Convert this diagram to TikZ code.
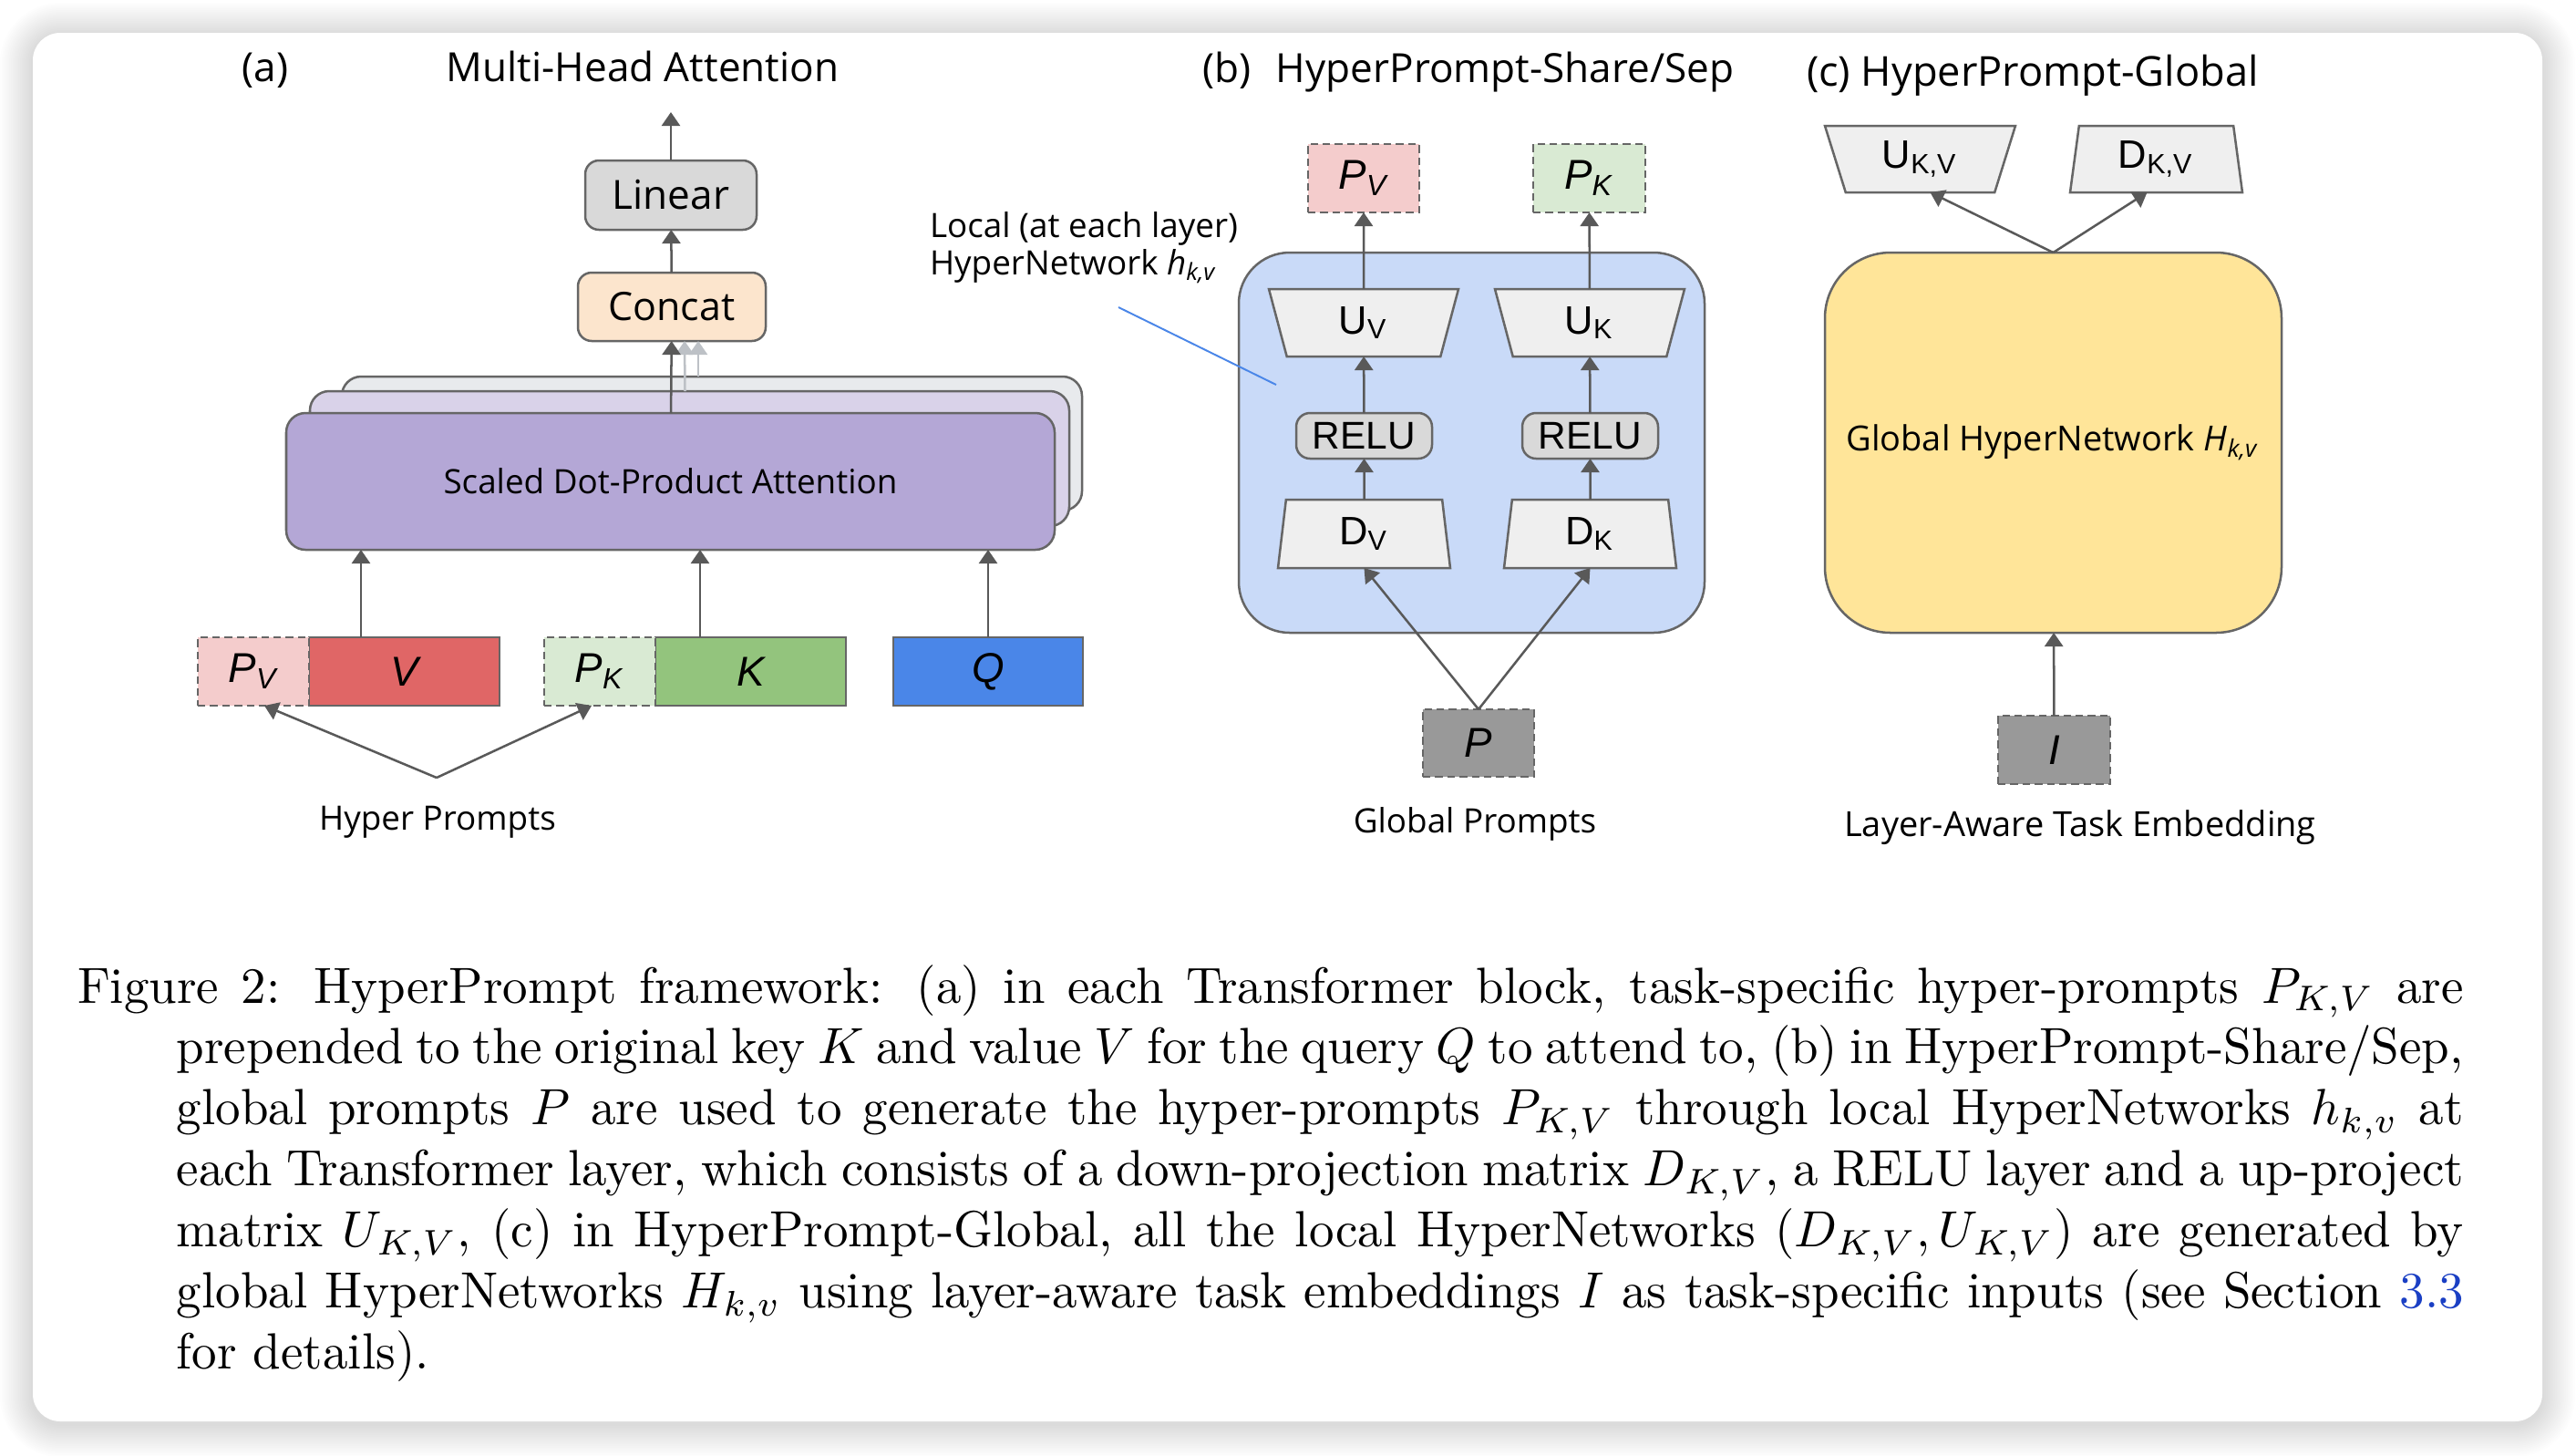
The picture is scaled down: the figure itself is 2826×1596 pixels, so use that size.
\documentclass[tikz,border=0pt]{standalone}
\usepackage{fontspec}
\usepackage{graphicx}
\newfontfamily\gsans{Open Sans}
\newfontfamily\arialf{Liberation Sans}
\usetikzlibrary{arrows.meta,shapes.geometric,calc}
\definecolor{edgegrey}{HTML}{666666}
\definecolor{arrowgrey}{HTML}{595959}
\definecolor{ghostgrey}{HTML}{BDC1C6}
\definecolor{lineargrey}{HTML}{D9D9D9}
\definecolor{concatpeach}{HTML}{FCE5CD}
\definecolor{sdpapurple}{HTML}{B4A7D6}
\definecolor{sdpalilac}{HTML}{D9D2E9}
\definecolor{sdpagrey}{HTML}{E8EAED}
\definecolor{pvpink}{HTML}{F4CCCC}
\definecolor{vred}{HTML}{E06666}
\definecolor{pkgreen}{HTML}{D9EAD3}
\definecolor{kgreen}{HTML}{93C47D}
\definecolor{qblue}{HTML}{4A86E8}
\definecolor{localblue}{HTML}{C9DAF8}
\definecolor{trapgrey}{HTML}{EFEFEF}
\definecolor{promptgrey}{HTML}{999999}
\definecolor{globalyellow}{HTML}{FFE599}
\definecolor{pointerblue}{HTML}{4A86E8}
\definecolor{linkblue}{HTML}{1A3FC4}
\newcommand{\pxu}{0.17921pt}
\begin{document}
\begin{tikzpicture}[x=\pxu,y=-\pxu,inner sep=0pt,outer sep=0pt,
box/.style={draw=edgegrey,line width=0.45pt,minimum height=75*\pxu},
rbox/.style={box,rounded corners=2.7pt},
dashbox/.style={box,dash pattern=on 1.5pt off 0.9pt},
sdpabox/.style={draw=edgegrey,line width=0.45pt,rounded corners=3.8pt},
bignet/.style={draw=edgegrey,line width=0.45pt,minimum width=505*\pxu,minimum height=417*\pxu},
trap/.style={trapezium,draw=edgegrey,fill=trapgrey,line width=0.45pt,trapezium stretches body,minimum height=74*\pxu,font=\arialf\fontsize{7.8}{9}\selectfont},
upproj/.style={trap,trapezium left angle=119,trapezium right angle=119},
downproj/.style={trap,trapezium left angle=76,trapezium right angle=76},
arr/.style={draw=arrowgrey,line width=0.45pt,-{Triangle[length=2.7pt,width=3.6pt]}},
ghostarr/.style={arr,draw=ghostgrey},
pointer/.style={draw=pointerblue,line width=0.35pt},
ttl/.style={font=\gsans\fontsize{7.9}{9.5}\selectfont},
lbl/.style={font=\gsans\fontsize{6.6}{8}\selectfont},
sym/.style={font=\arialf\itshape\fontsize{8.2}{9.6}\selectfont}]
\useasboundingbox (0,0) rectangle (2826,1596);
\fill[white] (0,0) rectangle (2826,1596);
\foreach \s in {1,...,18}
  \fill[black,opacity=0.008,rounded corners=(30+2*\s)*\pxu] (36-2*\s,39-2*\s) rectangle (2789+2*\s,1562+2*\s);
\fill[white,rounded corners=30*\pxu] (36,36) rectangle (2789,1559);

\draw (291,89) node[ttl,anchor=base] (alabel) {(a)};
\draw (705,89) node[ttl,anchor=base] (mhatitle) {Multi-Head Attention};
\draw (736,214) node[rbox,fill=lineargrey,minimum width=188*\pxu,minimum height=76*\pxu,font=\gsans\fontsize{7.9}{9}\selectfont] (linear) {Linear};
\draw (737,336.5) node[rbox,fill=concatpeach,minimum width=206*\pxu,font=\gsans\fontsize{7.7}{9}\selectfont] (concat) {Concat};
\draw (781,486.5) node[sdpabox,fill=sdpagrey,minimum width=812*\pxu,minimum height=147*\pxu] (sdpaback) {};
\draw (756.5,503) node[sdpabox,fill=sdpalilac,minimum width=833*\pxu,minimum height=148*\pxu] (sdpamid) {};
\draw (735.5,528) node[sdpabox,fill=sdpapurple,minimum width=843*\pxu,minimum height=150*\pxu,lbl] (sdpa) {Scaled Dot-Product Attention};
\draw[ghostarr] ($(sdpaback.north)+(-15,0)$) -- ($(concat.south)+(29,0)$);
\draw[ghostarr] ($(sdpamid.north)+(-5,0)$) -- ($(concat.south)+(14,0)$);
\draw[arr] (sdpa) -- (concat);
\draw[arr] (concat) -- (linear);
\coordinate (mhaout) at (736,123);
\draw[arr] (linear) -- (mhaout);
\draw (443.5,736.5) node[box,fill=vred,minimum width=209*\pxu,sym] (v) {V};
\draw (278,736.5) node[dashbox,fill=pvpink,minimum width=122*\pxu,sym] (pv) {P\textsubscript{V}};
\draw (823.5,736.5) node[box,fill=kgreen,minimum width=209*\pxu,sym] (k) {K};
\draw (658,736.5) node[dashbox,fill=pkgreen,minimum width=122*\pxu,sym] (pk) {P\textsubscript{K}};
\draw (1084,736.5) node[box,fill=qblue,minimum width=208*\pxu,sym] (q) {Q};
\coordinate (vin) at ($(v.north)+(-47.5,0)$);
\coordinate (kin) at ($(k.north)+(-55.5,0)$);
\draw[arr] (vin) -- (vin |- sdpa.south);
\draw[arr] (kin) -- (kin |- sdpa.south);
\draw[arr] (q.north) -- (q.north |- sdpa.south);
\coordinate (hpapex) at (479,853);
\draw[arr] (hpapex) -- ($(pv.south)+(12,0)$);
\draw[arr] (hpapex) -- ($(pk.south)+(-9,0)$);
\draw (480,910) node[lbl,anchor=base] (hyperprompts) {Hyper Prompts};

\draw (1319,90.5) node[ttl,anchor=base west] (blabel) {(b)\hspace{5pt}HyperPrompt-Share/Sep};
\draw (1614.5,485.5) node[bignet,fill=localblue,minimum width=511*\pxu,rounded corners=10pt] (localnet) {};
\draw (1496,195.5) node[dashbox,fill=pvpink,minimum width=122*\pxu,sym] (pvout) {P\textsubscript{V}};
\draw (1743.5,195.5) node[dashbox,fill=pkgreen,minimum width=123*\pxu,sym] (pkout) {P\textsubscript{K}};
\draw (1496,354) node[upproj,minimum width=208*\pxu] (uv) {U\textsubscript{V}};
\draw (1744,354) node[upproj,minimum width=208*\pxu] (uk) {U\textsubscript{K}};
\draw (1496.5,478) node[rbox,fill=lineargrey,minimum width=149*\pxu,minimum height=50*\pxu,font=\arialf\fontsize{7.6}{9}\selectfont] (reluv) {RELU};
\draw (1744.5,478) node[rbox,fill=lineargrey,minimum width=149*\pxu,minimum height=50*\pxu,font=\arialf\fontsize{7.6}{9}\selectfont] (reluk) {RELU};
\draw (1496.5,585.5) node[downproj,minimum width=189*\pxu,minimum height=75*\pxu] (dv) {D\textsubscript{V}};
\draw (1744.5,585.5) node[downproj,minimum width=189*\pxu,minimum height=75*\pxu] (dk) {D\textsubscript{K}};
\draw (1622,815) node[dashbox,fill=promptgrey,minimum width=122*\pxu,minimum height=74*\pxu,sym] (gprompt) {P};
\draw[arr] (dv) -- (reluv);
\draw[arr] (reluv) -- (uv);
\draw[arr] (uv) -- (pvout);
\draw[arr] (dk) -- (reluk);
\draw[arr] (reluk) -- (uk);
\draw[arr] (uk) -- (pkout);
\draw[arr] (gprompt.north) -- (dv.south);
\draw[arr] (gprompt.north) -- (dk.south);
\draw (1020,260) node[lbl,anchor=base west] (localtxt) {Local (at each layer)};
\draw (1020,301) node[lbl,anchor=base west] (localtxtb) {HyperNetwork \textit{h}\textsubscript{\textit{k,v}}};
\coordinate (ptrstart) at (1227,337);
\draw[pointer] (ptrstart) -- ($(localnet.north west)+(41,145)$);
\draw (1618,913) node[lbl,anchor=base] (gpromptlbl) {Global Prompts};

\draw (1982,94.5) node[ttl,anchor=base west,font=\gsans\fontsize{8.1}{9.5}\selectfont] (clabel) {(c) HyperPrompt-Global};
\draw (2106.5,174.5) node[upproj,trapezium left angle=120,trapezium right angle=120,minimum width=209*\pxu,minimum height=73*\pxu] (ukv) {U\textsubscript{K,V}};
\draw (2365.5,174.5) node[downproj,minimum width=189*\pxu,minimum height=73*\pxu] (dkv) {D\textsubscript{K,V}};
\draw (2252.5,485.5) node[bignet,fill=globalyellow,minimum width=501*\pxu,rounded corners=12.9pt,font=\gsans\fontsize{6.8}{8}\selectfont] (globalnet) {Global HyperNetwork \textit{H}\textsubscript{\textit{k,v}}};
\draw (2253.5,822.5) node[dashbox,fill=promptgrey,minimum width=123*\pxu,sym] (taskemb) {I};
\draw[arr] (globalnet.north) -- ($(ukv.south)+(11,0)$);
\draw[arr] (globalnet.north) -- ($(dkv.south)+(-10,0)$);
\draw[arr] (taskemb) -- (globalnet);
\draw (2282,917) node[lbl,anchor=base,font=\gsans\fontsize{6.8}{8}\selectfont] (taskemblbl) {Layer-Aware Task Embedding};

\draw (85,1100) node[anchor=base west] (caption) {\scalebox{0.985}[1]{\parbox[t]{476.3pt}{\fontsize{10}{12}\selectfont\hyphenpenalty=10000\exhyphenpenalty=10000\hangindent=19.8pt\hangafter=1 Figure 2: HyperPrompt framework: (a) in each Transformer block, task-specific hyper-prompts $P_{K,V}$ are\linebreak prepended to the original key $K$ and value $V$ for the query $Q$ to attend to, (b) in HyperPrompt-Share/Sep,\linebreak global prompts $P$ are used to generate the hyper-prompts $P_{K,V}$ through local HyperNetworks $h_{k,v}$ at\linebreak each Transformer layer, which consists of a down-projection matrix $D_{K,V}$, a RELU layer and a up-project\linebreak matrix $U_{K,V}$, (c) in HyperPrompt-Global, all the local HyperNetworks $\left(D_{K,V}, U_{K,V}\right)$ are generated by\linebreak global HyperNetworks $H_{k,v}$ using layer-aware task embeddings $I$ as task-specific inputs (see Section \textcolor{linkblue}{3.3}\linebreak for details).\par}}};
\end{tikzpicture}
\end{document}
